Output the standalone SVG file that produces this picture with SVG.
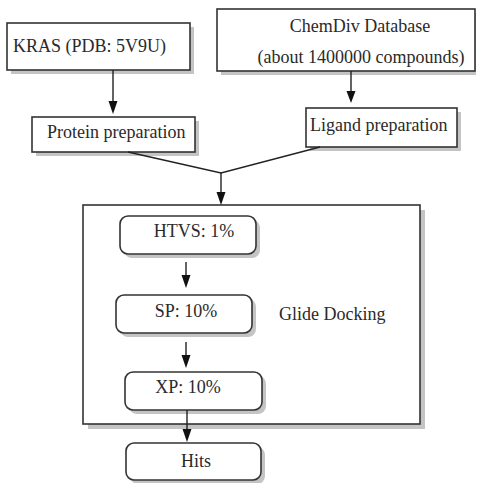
<svg xmlns="http://www.w3.org/2000/svg" width="477" height="483" viewBox="0 0 477 483">
<defs>
<style>
.box{fill:#fff;stroke:#333;stroke-width:1.6}
.sh{fill:#c4c4c4}
.t{font-family:"Liberation Serif","Times New Roman",serif;font-size:18px;fill:#2a2a2a}
.c{stroke:#222;stroke-width:1.4;fill:none}
</style>
<marker id="ah" markerWidth="9" markerHeight="12" refX="4.5" refY="12" orient="auto-start-reverse" markerUnits="userSpaceOnUse" viewBox="0 0 9 12">
<path d="M0,0 L9,0 L4.5,12 Z" fill="#111" transform="rotate(0)"/>
</marker>
<marker id="av" markerWidth="12" markerHeight="9" refX="12" refY="4.5" orient="auto" markerUnits="userSpaceOnUse" viewBox="0 0 12 9">
<path d="M0,0 L12,4.5 L0,9 Z" fill="#111"/>
</marker>
</defs>
<rect width="477" height="483" fill="#fff"/>
<g id="glide">
<rect class="sh" x="88" y="210" width="337" height="219"/>
<rect class="box" x="83" y="205" width="337" height="219"/>
<text class="t" x="279" y="320">Glide Docking</text>
</g>
<g id="kras">
<rect class="sh" x="11" y="27" width="183" height="47"/>
<rect class="box" x="7" y="23" width="183" height="47"/>
<text class="t" x="13" y="52">KRAS (PDB: 5V9U)</text>
</g>
<g id="chemdiv">
<rect class="sh" x="221" y="13" width="255" height="62"/>
<rect class="box" x="217" y="9" width="258" height="62"/>
<text class="t" x="360" y="32" text-anchor="middle">ChemDiv Database</text>
<text class="t" x="361" y="63" text-anchor="middle">(about 1400000 compounds)</text>
</g>
<g id="protein">
<rect class="sh" x="36" y="121" width="163" height="35"/>
<rect class="box" x="32" y="117" width="163" height="35"/>
<text class="t" x="47" y="138">Protein preparation</text>
</g>
<g id="ligand">
<rect class="sh" x="310" y="112" width="151" height="39"/>
<rect class="box" x="306" y="108" width="151" height="39"/>
<text class="t" x="310" y="131">Ligand preparation</text>
</g>
<g id="htvs">
<rect class="sh" x="124" y="220" width="136" height="38" rx="8"/>
<rect class="box" x="120" y="216" width="136" height="38" rx="8"/>
<text class="t" x="194" y="237" text-anchor="middle">HTVS: 1%</text>
</g>
<g id="sp">
<rect class="sh" x="120" y="299" width="136" height="38" rx="8"/>
<rect class="box" x="116" y="295" width="136" height="38" rx="8"/>
<text class="t" x="186" y="317" text-anchor="middle">SP: 10%</text>
</g>
<g id="xp">
<rect class="sh" x="129" y="376" width="137" height="38" rx="8"/>
<rect class="box" x="125" y="372" width="137" height="38" rx="8"/>
<text class="t" x="188" y="393" text-anchor="middle">XP: 10%</text>
</g>
<g id="hits">
<rect class="sh" x="130" y="447" width="135" height="37" rx="8"/>
<rect class="box" x="126" y="443" width="135" height="37" rx="8"/>
<text class="t" x="196" y="467" text-anchor="middle">Hits</text>
</g>
<g id="connectors">
<line class="c" x1="113" y1="70" x2="113" y2="101"/>
<path d="M108.5,101 L117.5,101 L113,114 Z" fill="#111"/>
<line class="c" x1="351" y1="71" x2="351" y2="92"/>
<path d="M346.5,91 L355.5,91 L351,103 Z" fill="#111"/>
<polyline class="c" points="128,152 221,173 320,147"/>
<line class="c" x1="221" y1="173" x2="221" y2="193"/>
<path d="M216.5,192 L225.5,192 L221,205 Z" fill="#111"/>
<line class="c" x1="186" y1="262" x2="186" y2="276"/>
<path d="M181.5,275 L190.5,275 L186,288 Z" fill="#111"/>
<line class="c" x1="186" y1="342" x2="186" y2="356"/>
<path d="M181.5,355 L190.5,355 L186,368 Z" fill="#111"/>
<line class="c" x1="187" y1="410" x2="187" y2="430"/>
<path d="M182.5,429 L191.5,429 L187,442 Z" fill="#111"/>
</g>
</svg>
